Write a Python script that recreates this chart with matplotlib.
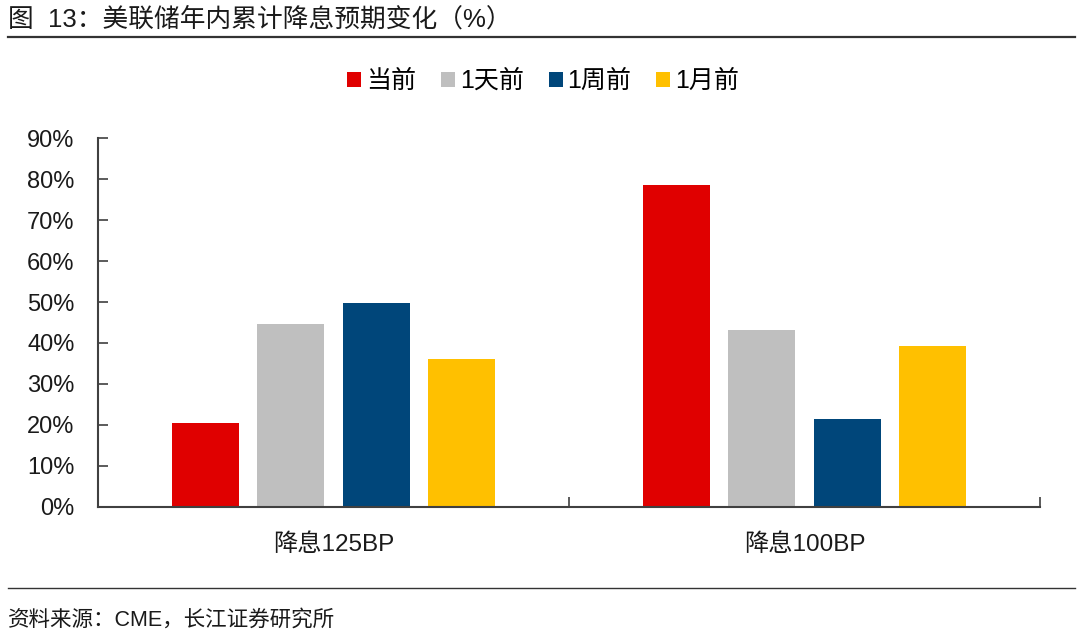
import numpy as np
import matplotlib.pyplot as plt
from matplotlib.patches import Patch
from matplotlib.lines import Line2D

# ----------------------------
# Data
# ----------------------------
categories = ["降息125BP", "降息100BP"]
series_names = ["当前", "1天前", "1周前", "1月前"]
vals_now = [20.5, 78.6]
vals_1d = [44.7, 43.2]
vals_1w = [49.7, 21.4]
vals_1m = [36.1, 39.2]
yticks = [0, 10, 20, 30, 40, 50, 60, 70, 80, 90]

COLORS = ["#E00000", "#BFBFBF", "#00467A", "#FFC000"]
AXIS_COLOR = "#404040"
TEXT_COLOR = "#1a1a1a"

plt.rcParams["font.family"] = ["Liberation Sans", "Noto Sans CJK SC", "DejaVu Sans"]

fig = plt.figure(figsize=(10.8, 6.38), dpi=100)
ax = fig.add_axes([98 / 1080, 1 - 506.7 / 638, 942 / 1080, 368.4 / 638])

x = np.arange(len(categories))
width = 0.1426
step = 0.181
all_vals = [vals_now, vals_1d, vals_1w, vals_1m]
for i, (name, v, c) in enumerate(zip(series_names, all_vals, COLORS)):
    ax.bar(x + (i - 1.5) * step, v, width=width, color=c, label=name, zorder=2)

ax.set_xlim(-0.5, 1.5)
ax.set_ylim(0, 90)
ax.set_yticks(yticks)
ax.set_yticklabels([f"{t}%" for t in yticks], fontsize=17, color=TEXT_COLOR)

# category labels, with ticks at category boundaries
ax.set_xticks([0.5, 1.5])
ax.set_xticklabels([])
ax.tick_params(axis="x", direction="in", length=7, width=1.2, color=AXIS_COLOR)
ax.tick_params(axis="y", direction="in", length=7, width=1.2, color=AXIS_COLOR, pad=17)
for xi, lab in zip(x, categories):
    ax.text(xi, -9.3, lab, ha="center", va="center", fontsize=17.5, color=TEXT_COLOR)

for s in ["top", "right"]:
    ax.spines[s].set_visible(False)
for s in ["left", "bottom"]:
    ax.spines[s].set_color(AXIS_COLOR)
    ax.spines[s].set_linewidth(1.5)

# legend
handles = [Patch(facecolor=c, edgecolor="none") for c in COLORS]
fig.legend(handles, series_names, loc="center", bbox_to_anchor=(0.503, 1 - 81 / 638),
           ncol=4, frameon=False, fontsize=18, handlelength=0.55, handleheight=0.55,
           handletextpad=0.2, columnspacing=1.0)

# title and source with rules
fig.text(8 / 1080, 1 - 19 / 638, "图  13：美联储年内累计降息预期变化（%）", fontsize=18.5,
         ha="left", va="center", color=TEXT_COLOR)
fig.add_artist(Line2D([8 / 1080, 1075 / 1080], [1 - 37 / 638] * 2, color="#333333", lw=1.6))
fig.add_artist(Line2D([8 / 1080, 1075 / 1080], [1 - 588 / 638] * 2, color="#333333", lw=1.0))
fig.text(8 / 1080, 1 - 620 / 638, "资料来源：CME，长江证券研究所", fontsize=15.5,
         ha="left", va="center", color=TEXT_COLOR)

fig.savefig("out.png", dpi=100, facecolor="white")
